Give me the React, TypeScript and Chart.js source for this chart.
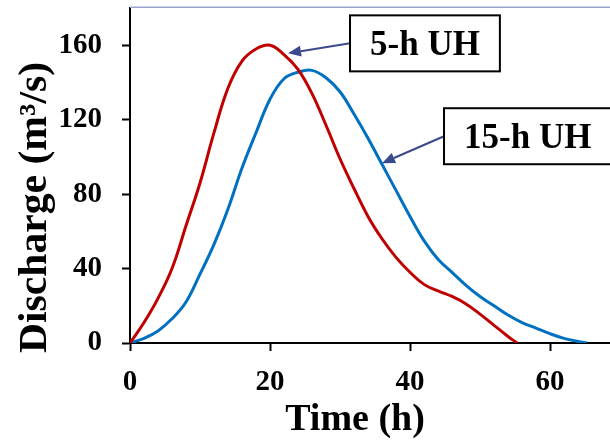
import React, { useEffect, useRef } from "react";
import { Chart, registerables } from "chart.js";

Chart.register(...registerables);

// ---- Data ----
const time5h = [0, 2, 4, 6, 8, 10, 12, 14, 16, 18, 20, 22, 24, 26, 28, 30, 32, 34, 36, 38, 40, 42, 44, 46, 48, 50, 52, 54, 55.3];
const flow5h = [0, 11, 24, 40, 63, 86, 113, 137, 151.5, 158, 160, 155, 147, 134, 117, 99, 83, 68, 56, 46, 38, 31.5, 28, 25, 21, 15.5, 9.5, 3.5, 0];

const time15h = [0, 2, 4, 6, 8, 10, 12, 14, 16, 18, 20, 22, 24, 26, 28, 30, 32, 34, 36, 38, 40, 42, 44, 46, 48, 50, 52, 54, 56, 58, 60, 62, 64, 65.3];
const flow15h = [0, 2.5, 6.5, 13, 22, 37, 53, 72, 94, 113, 131, 142, 145.5, 146.5, 142.5, 135, 123, 110, 96, 82, 68, 55, 45, 38, 31, 25, 20, 15, 11, 8, 5, 2.5, 0.8, 0];

const xTicksStep = 20;
const yTicksStep = 40;
const X_MAX = 68.57;
const Y_MAX = 180;

const xTitle = "Time (h)";
const yTitle = "Discharge (m³/s)";

// annotation labels: box left/centre in data units, arrow tip in data units
const labelTexts = ["5-h UH", "15-h UH"];
const labelBoxX = [31.43, 44.86];
const labelBoxY = [161, 111.1];
const arrowTipX = [22.57, 36.0];
const arrowTipY = [155.7, 96.6];

const FONT = '"Liberation Serif", "Times New Roman", Times, serif';

const overlayPlugin = {
  id: "overlay",
  afterDraw(chart: any) {
    const { ctx, chartArea } = chart;
    const xs = chart.scales.x;
    const ys = chart.scales.y;
    ctx.save();

    // top border of plot area
    ctx.strokeStyle = "#9AA5CF";
    ctx.lineWidth = 1.5;
    ctx.beginPath();
    ctx.moveTo(chartArea.left, chartArea.top - 0.75);
    ctx.lineTo(chartArea.right, chartArea.top - 0.75);
    ctx.stroke();

    // axis titles
    ctx.fillStyle = "#000";
    ctx.textAlign = "center";
    ctx.textBaseline = "alphabetic";
    ctx.font = `bold 38px ${FONT}`;
    ctx.fillText(xTitle, chartArea.left + 225, 430);

    ctx.font = `bold 40px ${FONT}`;
    const yw = ctx.measureText(yTitle).width;
    const ySpan = 291;
    ctx.save();
    ctx.translate(46, 207.5);
    ctx.rotate(-Math.PI / 2);
    ctx.scale(ySpan / yw, 1);
    ctx.fillText(yTitle, 0, 0);
    ctx.restore();

    // annotations
    ctx.font = `bold 35px ${FONT}`;
    for (let i = 0; i < labelTexts.length; i++) {
      const bx = xs.getPixelForValue(labelBoxX[i]);
      const by = ys.getPixelForValue(labelBoxY[i]);
      const tw = ctx.measureText(labelTexts[i]).width;
      const bw = tw + 40;
      const bh = 56;
      const tx = xs.getPixelForValue(arrowTipX[i]);
      const ty = ys.getPixelForValue(arrowTipY[i]);

      // arrow
      ctx.strokeStyle = "#3A4A8C";
      ctx.fillStyle = "#3A4A8C";
      ctx.lineWidth = 2;
      const ang = Math.atan2(ty - by, tx - bx);
      const headLen = 13;
      const headW = 5.5;
      const baseX = tx - headLen * Math.cos(ang);
      const baseY = ty - headLen * Math.sin(ang);
      ctx.beginPath();
      ctx.moveTo(bx, by);
      ctx.lineTo(baseX, baseY);
      ctx.stroke();
      ctx.beginPath();
      ctx.moveTo(tx, ty);
      ctx.lineTo(baseX + headW * Math.sin(ang), baseY - headW * Math.cos(ang));
      ctx.lineTo(baseX - headW * Math.sin(ang), baseY + headW * Math.cos(ang));
      ctx.closePath();
      ctx.fill();

      // box
      ctx.fillStyle = "#fff";
      ctx.fillRect(bx, by - bh / 2, bw, bh);
      ctx.strokeStyle = "#000";
      ctx.lineWidth = 2;
      ctx.strokeRect(bx, by - bh / 2, bw, bh);

      ctx.fillStyle = "#000";
      ctx.textAlign = "center";
      ctx.textBaseline = "alphabetic";
      ctx.fillText(labelTexts[i], bx + bw / 2, by + 12);
    }
    ctx.restore();
  },
};

export default function App() {
  const canvasRef = useRef<HTMLCanvasElement | null>(null);

  useEffect(() => {
    let chart: Chart | null = null;
    let cancelled = false;
    const build = () => {
      if (cancelled || !canvasRef.current) return;
      const tickFont = { family: FONT, size: 29, weight: "bold" as const };
      chart = new Chart(canvasRef.current, {
        type: "line",
        data: {
          datasets: [
            {
              label: "5-h UH",
              data: time5h.map((t, i) => ({ x: t, y: flow5h[i] })),
              borderColor: "#C00000",
              borderWidth: 3,
              pointRadius: 0,
              tension: 0.4,
              fill: false,
            },
            {
              label: "15-h UH",
              data: time15h.map((t, i) => ({ x: t, y: flow15h[i] })),
              borderColor: "#0070C0",
              borderWidth: 3,
              pointRadius: 0,
              tension: 0.4,
              fill: false,
            },
          ],
        },
        options: {
          responsive: false,
          animation: false,
          layout: { padding: { top: 8, right: 0, left: 0, bottom: 0 } },
          plugins: {
            legend: { display: false },
            tooltip: { enabled: false },
          },
          scales: {
            x: {
              type: "linear",
              min: 0,
              max: X_MAX,
              ticks: {
                stepSize: xTicksStep,
                includeBounds: false,
                font: tickFont,
                color: "#000",
                padding: 14,
                maxRotation: 0,
              },
              grid: {
                drawOnChartArea: false,
                drawTicks: true,
                tickLength: 8,
                tickWidth: 2,
                tickColor: "#000",
              },
              border: { color: "#000", width: 2 },
              afterFit: (s: any) => {
                s.height = 97;
                s.paddingLeft = 0;
                s.paddingRight = 0;
              },
            },
            y: {
              type: "linear",
              min: 0,
              max: Y_MAX,
              ticks: {
                stepSize: yTicksStep,
                includeBounds: false,
                font: tickFont,
                color: "#000",
                padding: 20,
              },
              grid: {
                drawOnChartArea: false,
                drawTicks: true,
                tickLength: 8,
                tickWidth: 2,
                tickColor: "#000",
              },
              border: { color: "#000", width: 2 },
              afterFit: (s: any) => {
                s.width = 130;
                s.paddingTop = 0;
                s.paddingBottom = 0;
              },
            },
          },
        } as any,
        plugins: [overlayPlugin],
      });
    };
    const fonts = (document as any).fonts;
    if (fonts && fonts.load) {
      Promise.all([
        fonts.load('bold 29px "Liberation Serif"'),
        fonts.load('bold 38px "Liberation Serif"'),
      ]).then(build, build);
    } else {
      build();
    }
    return () => {
      cancelled = true;
      if (chart) chart.destroy();
    };
  }, []);

  return (
    <div style={{ position: "absolute", left: 0, top: 0, width: 610, height: 440, background: "#fff" }}>
      <canvas ref={canvasRef} width={610} height={440} style={{ display: "block" }} />
    </div>
  );
}
